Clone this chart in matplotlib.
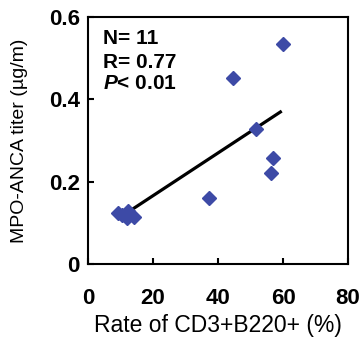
import matplotlib
matplotlib.use("Agg")
import matplotlib.pyplot as plt

# data
rate = [59.9, 44.5, 51.7, 57.0, 56.3, 37.2, 9.3, 12.4, 11.9, 14.2, 10.4]
titer = [0.533, 0.452, 0.327, 0.258, 0.222, 0.161, 0.125, 0.129, 0.111, 0.115, 0.120]
fit_x = [9.4, 59.6]
fit_y = [0.111, 0.371]
xticks = [0, 20, 40, 60, 80]
yticks = [0, 0.2, 0.4, 0.6]
ytick_labels = ["0", "0.2", "0.4", "0.6"]
stats = ["N= 11", "R= 0.77", r"$P$< 0.01"]

plt.rcParams['font.family'] = ['Liberation Sans', 'DejaVu Sans']
# bold italic P for the p-value
plt.rcParams['mathtext.fontset'] = 'custom'
plt.rcParams['mathtext.it'] = 'Liberation Sans:italic:bold'

fig = plt.figure(figsize=(3.61, 3.47), dpi=100)
ax = fig.add_axes([0.244, 0.239, 0.72, 0.713])

ax.plot(fit_x, fit_y, color="black", lw=2.3, solid_capstyle="butt", zorder=2)
ax.plot(rate, titer, "D", color="#3d4aa6", ms=7, mec="#3d4aa6", zorder=3)

ax.set_xlim(0, 80)
ax.set_ylim(0, 0.6)
ax.set_xticks(xticks)
ax.set_yticks(yticks)
ax.set_yticklabels(ytick_labels)
ax.tick_params(direction="in", length=4, width=1.5, labelsize=16)
ax.tick_params(axis="x", pad=17)
ax.tick_params(axis="y", pad=6)
for lab in ax.get_xticklabels() + ax.get_yticklabels():
    lab.set_fontweight("bold")
for s in ax.spines.values():
    s.set_linewidth(1.5)

ax.set_xlabel("Rate of CD3+B220+ (%)", fontsize=16.5, labelpad=4)
ax.set_ylabel("MPO-ANCA titer (\u00b5g/m)", fontsize=14, labelpad=15)

# stats box text, one line each
for txt, yy in zip(stats, [0.91, 0.816, 0.731]):
    ax.text(0.058, yy, txt, transform=ax.transAxes, fontsize=15,
            fontweight="bold", va="center")

fig.savefig("out.png", dpi=100)
